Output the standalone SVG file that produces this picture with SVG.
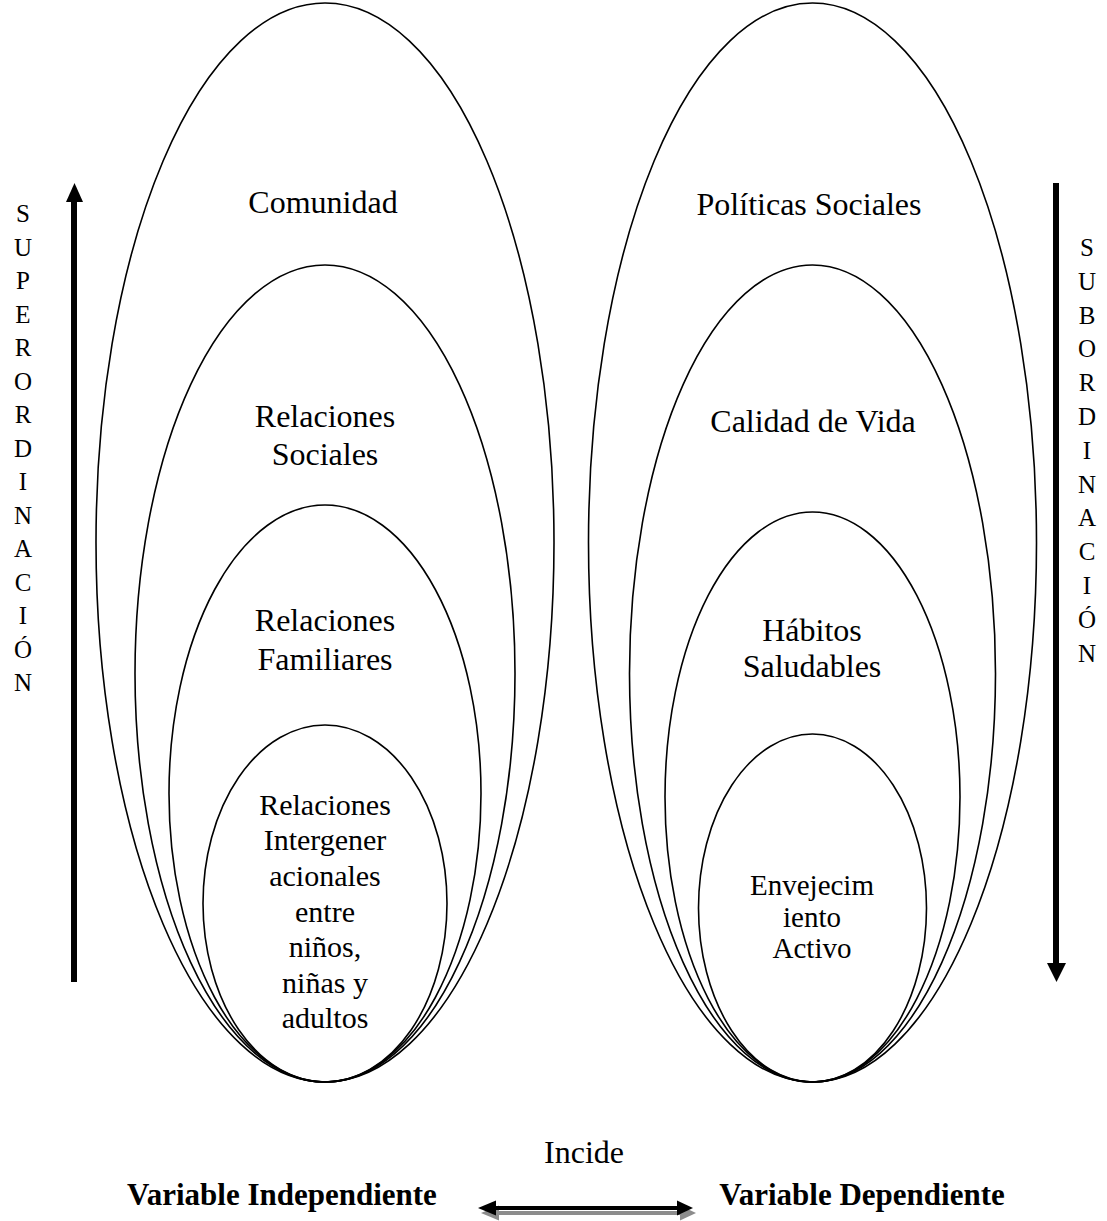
<svg xmlns="http://www.w3.org/2000/svg" width="1107" height="1221" viewBox="0 0 1107 1221">
<style>
.e{fill:none;stroke:#000;stroke-width:1.6}
.t{font-family:"Liberation Serif","Times New Roman",serif;font-size:32px;fill:#000;text-anchor:middle}
.s{font-size:30px}
.v{font-size:29px}
.l{font-family:"Liberation Serif","Times New Roman",serif;font-size:25px;fill:#000;text-anchor:middle}
.b{font-weight:bold;font-size:31px}
</style>
<rect width="1107" height="1221" fill="#fff"/>
<g id="left-group">
<g id="comunidad"><ellipse class="e" cx="325" cy="542.5" rx="229" ry="539.5"/><text class="t" x="323" y="213">Comunidad</text></g>
<g id="relaciones-sociales"><ellipse class="e" cx="325" cy="673.5" rx="190" ry="408.5"/><text class="t" x="325" y="427">Relaciones</text><text class="t" x="325" y="465">Sociales</text></g>
<g id="relaciones-familiares"><ellipse class="e" cx="325" cy="793.5" rx="156" ry="288.5"/><text class="t" x="325" y="631">Relaciones</text><text class="t" x="325" y="670">Familiares</text></g>
<g id="relaciones-intergeneracionales"><ellipse class="e" cx="325" cy="903.5" rx="122" ry="178.5"/>
<text class="t s" x="325" y="815">Relaciones</text><text class="t s" x="325" y="850">Intergener</text><text class="t s" x="325" y="886">acionales</text><text class="t s" x="325" y="922">entre</text><text class="t s" x="325" y="957">niños,</text><text class="t s" x="325" y="993">niñas y</text><text class="t s" x="325" y="1028">adultos</text></g>
</g>
<g id="right-group">
<g id="politicas-sociales"><ellipse class="e" cx="812.5" cy="542.5" rx="224" ry="539.5"/><text class="t" x="809" y="215">Políticas Sociales</text></g>
<g id="calidad-de-vida"><ellipse class="e" cx="812.5" cy="673.5" rx="183" ry="408.5"/><text class="t" x="813" y="432">Calidad de Vida</text></g>
<g id="habitos-saludables"><ellipse class="e" cx="812.5" cy="797" rx="147.5" ry="285"/><text class="t" x="812" y="641">Hábitos</text><text class="t" x="812" y="677">Saludables</text></g>
<g id="envejecimiento-activo"><ellipse class="e" cx="812.5" cy="908" rx="114" ry="174"/><text class="t v" x="812" y="895">Envejecim</text><text class="t v" x="812" y="927">iento</text><text class="t v" x="812" y="958">Activo</text></g>
</g>
<g id="superordinacion">
<text class="l" x="23" y="222">S</text><text class="l" x="23" y="255.5">U</text><text class="l" x="23" y="289">P</text><text class="l" x="23" y="322.5">E</text><text class="l" x="23" y="356">R</text><text class="l" x="23" y="389.5">O</text><text class="l" x="23" y="423">R</text><text class="l" x="23" y="456.5">D</text><text class="l" x="23" y="490">I</text><text class="l" x="23" y="523.5">N</text><text class="l" x="23" y="557">A</text><text class="l" x="23" y="590.5">C</text><text class="l" x="23" y="624">I</text><text class="l" x="23" y="657.5">Ó</text><text class="l" x="23" y="691">N</text>
</g>
<g id="subordinacion">
<text class="l" x="1087" y="256">S</text><text class="l" x="1087" y="289.8">U</text><text class="l" x="1087" y="323.6">B</text><text class="l" x="1087" y="357.4">O</text><text class="l" x="1087" y="391.2">R</text><text class="l" x="1087" y="425">D</text><text class="l" x="1087" y="458.8">I</text><text class="l" x="1087" y="492.6">N</text><text class="l" x="1087" y="526.4">A</text><text class="l" x="1087" y="560.2">C</text><text class="l" x="1087" y="594">I</text><text class="l" x="1087" y="627.8">Ó</text><text class="l" x="1087" y="661.6">N</text>
</g>
<g id="connectors">
<g id="up-arrow"><rect x="71" y="200" width="6" height="782" fill="#000"/><polygon points="74.5,183 66,202 83,202" fill="#000"/></g>
<g id="down-arrow"><rect x="1053" y="183" width="6" height="782" fill="#000"/><polygon points="1056.5,982 1047,963 1066,963" fill="#000"/></g>
<g id="incide-arrow">
<g fill="#8c8c8c" transform="translate(3,5)"><rect x="493" y="1206" width="187" height="4"/><polygon points="478,1208 496,1200.5 496,1215.5"/><polygon points="693,1208 677,1200.5 677,1215.5"/></g>
<g fill="#000"><rect x="493" y="1206" width="187" height="4"/><polygon points="478,1208 496,1200.5 496,1215.5"/><polygon points="693,1208 677,1200.5 677,1215.5"/></g>
</g>
</g>
<text class="t" x="584" y="1163">Incide</text>
<text class="t b" x="282" y="1205">Variable Independiente</text>
<text class="t b" x="862" y="1205">Variable Dependiente</text>
</svg>
